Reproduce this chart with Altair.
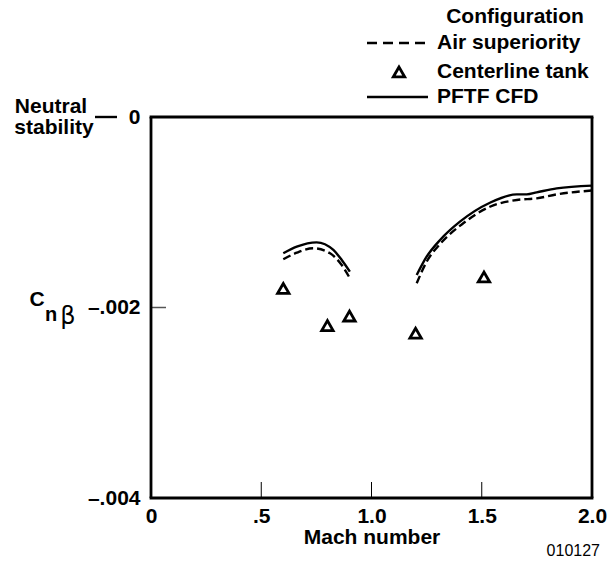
import altair as alt
import pandas as pd

# PFTF CFD (solid), two segments
mach_pftf_1 = [0.60, 0.661, 0.751, 0.827, 0.865, 0.902]
cn_pftf_1 = [-0.001431, -0.001362, -0.001316, -0.001396, -0.001501, -0.001624]
mach_pftf_2 = [1.205, 1.25, 1.311, 1.401, 1.537, 1.659, 1.704, 1.749, 1.84, 2.0]
cn_pftf_2 = [-0.001659, -0.001467, -0.001291, -0.001099, -0.000900, -0.000812,
             -0.000812, -0.000791, -0.000749, -0.000720]
# Air superiority (dashed), two segments
mach_air_1 = [0.60, 0.661, 0.736, 0.812, 0.865, 0.902]
cn_air_1 = [-0.001494, -0.001425, -0.001378, -0.001431, -0.001554, -0.001693]
mach_air_2 = [1.205, 1.25, 1.311, 1.416, 1.537, 1.659, 1.749, 1.84, 2.0]
cn_air_2 = [-0.001746, -0.001519, -0.001333, -0.001116, -0.000942, -0.000871,
            -0.000854, -0.000812, -0.000772]
# Centerline tank (triangles)
mach_tank = [0.60, 0.80, 0.90, 1.20, 1.51]
cn_tank = [-0.00180, -0.00219, -0.00209, -0.00227, -0.00168]

x_ticks = [0.5, 1.0, 1.5]
y_ticks = [-0.002]

FONT = "Liberation Sans"
FS = 21
W, H = 441, 381

pftf = pd.DataFrame({
    "mach": mach_pftf_1 + mach_pftf_2,
    "cn": cn_pftf_1 + cn_pftf_2,
    "seg": ["a"] * len(mach_pftf_1) + ["b"] * len(mach_pftf_2),
})
air = pd.DataFrame({
    "mach": mach_air_1 + mach_air_2,
    "cn": cn_air_1 + cn_air_2,
    "seg": ["a"] * len(mach_air_1) + ["b"] * len(mach_air_2),
})
tank = pd.DataFrame({"mach": mach_tank, "cn": cn_tank})

xscale = alt.Scale(domain=[0, 2], nice=False, zero=False)
yscale = alt.Scale(domain=[-0.004, 0], nice=False, zero=False)

xaxis = alt.Axis(
    values=[0, 0.5, 1.0, 1.5, 2.0],
    labelExpr="datum.value == 0 ? '0' : datum.value == 0.5 ? '.5' : format(datum.value, '.1f')",
    ticks=False, domain=False, grid=False, labelFlush=False,
    labelFont=FONT, labelFontSize=FS, labelFontWeight="bold", labelColor="black",
    labelPadding=7, title="Mach number", titleFont=FONT, titleFontSize=FS,
    titleFontWeight="bold", titleColor="black", titlePadding=0,
)
yaxis = alt.Axis(
    values=[0, -0.002, -0.004],
    labelExpr="datum.value == 0 ? '0' : '\u2013.00' + round(abs(datum.value) * 1000)",
    ticks=False, domain=False, grid=False, labelFlush=False,
    labelFont=FONT, labelFontSize=FS, labelFontWeight="bold", labelColor="black",
    labelPadding=11, title=None,
)

X = alt.X("mach:Q", scale=xscale, axis=xaxis)
Y = alt.Y("cn:Q", scale=yscale, axis=yaxis)

solid = alt.Chart(pftf).mark_line(color="black", strokeWidth=2.4, interpolate="monotone").encode(
    x=X, y=Y, detail="seg:N")
dashed = alt.Chart(air).mark_line(color="black", strokeWidth=2.4, strokeDash=[8, 4],
                                  interpolate="monotone").encode(x=X, y=Y, detail="seg:N")
tri = alt.Chart(tank).mark_point(shape="triangle-up", filled=False, color="black",
                                 size=130, strokeWidth=2.8, opacity=1).encode(x=X, y=Y)

xt = alt.Chart(pd.DataFrame({"mach": x_ticks})).mark_rule(color="black", strokeWidth=1).encode(
    x=X, y=alt.value(H), y2=alt.value(H - 16))
yt = alt.Chart(pd.DataFrame({"cn": y_ticks})).mark_rule(color="#555555", strokeWidth=1.5).encode(
    y=Y, x=alt.value(0), x2=alt.value(15))

one = pd.DataFrame({"k": [0]})


def txt(s, x, y, size=FS, weight="bold", align="left", font=FONT):
    return alt.Chart(one).mark_text(text=s, font=font, fontSize=size, fontWeight=weight,
                                    align=align, baseline="middle", color="black").encode(
        x=alt.value(x), y=alt.value(y))


def rule(x1, x2, y, dash=None, width=2.4):
    kw = dict(color="black", strokeWidth=width)
    if dash:
        kw["strokeDash"] = dash
    return alt.Chart(one).mark_rule(**kw).encode(x=alt.value(x1), x2=alt.value(x2), y=alt.value(y))


def vrule(x, y1, y2, width=2.8):
    return alt.Chart(one).mark_rule(color="black", strokeWidth=width).encode(
        x=alt.value(x), y=alt.value(y1), y2=alt.value(y2))


frame = [
    rule(-1.4, W + 1.4, 0, width=2.8),
    rule(-1.4, W + 1.4, H, width=2.8),
    vrule(0, 0, H),
    vrule(W, 0, H),
]

annotations = [
    txt("Configuration", 364, -100, align="center"),
    rule(216, 274, -74, dash=[10, 6]),
    txt("Air superiority", 286, -74),
    alt.Chart(one).mark_point(shape="triangle-up", filled=False, color="black", size=130,
                              strokeWidth=2.8, opacity=1).encode(x=alt.value(248), y=alt.value(-45)),
    txt("Centerline tank", 286, -45),
    rule(216, 277, -20),
    txt("PFTF CFD", 286, -20),
    txt("Neutral", -100, -10, align="center"),
    txt("stability", -97, 11, align="center"),
    rule(-56, -34, 0),
    txt("C", -114, 183, size=FS, align="center"),
    txt("n", -100, 198, size=20, align="center"),
    txt("\u03b2", -83, 200, size=24, weight="normal", font="DejaVu Sans", align="center"),
    txt("010127", 449, 434, size=16, weight="normal", align="right"),
]

chart = alt.layer(dashed, solid, tri, xt, yt, *frame, *annotations).properties(
    width=W, height=H,
    background="white",
    autosize=alt.AutoSizeParams(type="none"),
    padding={"left": 151, "top": 117, "right": 23, "bottom": 66},
).configure_view(strokeWidth=0)

chart.save("out.html", embed_options={"renderer": "svg", "actions": False})
